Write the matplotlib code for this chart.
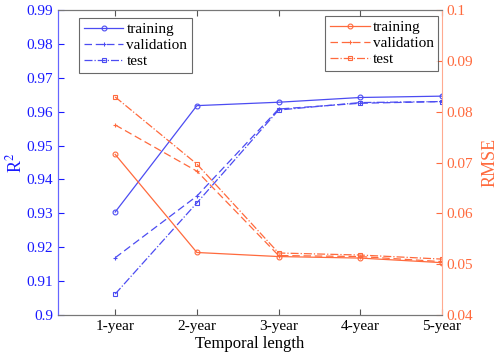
import numpy as np
import matplotlib.pyplot as plt

plt.rcParams['font.family'] = ['Liberation Serif', 'DejaVu Serif']
plt.rcParams['mathtext.fontset'] = 'stix'

periods = ['1-year', '2-year', '3-year', '4-year', '5-year']
r2_train = [0.9304, 0.9618, 0.9628, 0.9642, 0.9646]
r2_val = [0.9169, 0.9351, 0.9608, 0.9625, 0.9630]
r2_test = [0.9062, 0.9331, 0.9605, 0.9627, 0.9630]
rmse_train = [0.0716, 0.0523, 0.0515, 0.0512, 0.0503]
rmse_val = [0.0774, 0.0683, 0.0517, 0.0515, 0.0505]
rmse_test = [0.0829, 0.0697, 0.0522, 0.0518, 0.0510]

blue = '#4c4cf2'
orange = '#ff6a3d'
x = np.arange(1, 6)

fig = plt.figure(figsize=(5, 3.6), dpi=100)
ax = fig.add_axes([0.116, 0.125, 0.768, 0.847])
ax2 = ax.twinx()

ax.plot(x, r2_train, '-o', color=blue, lw=0.9, ms=3.5, mfc='none', mew=0.8, label='training')
ax.plot(x, r2_val, '--+', color=blue, lw=0.9, ms=3.5, mew=0.8, label='validation', dashes=(6, 3))
ax.plot(x, r2_test, '-.s', color=blue, lw=0.9, ms=3, mfc='none', mew=0.8, label='test')

ax2.plot(x, rmse_train, '-o', color=orange, lw=0.9, ms=3.5, mfc='none', mew=0.8, label='training')
ax2.plot(x, rmse_val, '--+', color=orange, lw=0.9, ms=3.5, mew=0.8, label='validation', dashes=(6, 3))
ax2.plot(x, rmse_test, '-.s', color=orange, lw=0.9, ms=3, mfc='none', mew=0.8, label='test')

ax.set_xlim(0.3, 5)
ax.set_xticks(x)
ax.set_xticklabels(periods, fontsize=11)
ax.set_ylim(0.9, 0.99)
ax.set_yticks(np.arange(0.9, 0.9901, 0.01))
ax.set_yticklabels(['0.9', '0.91', '0.92', '0.93', '0.94', '0.95', '0.96', '0.97', '0.98', '0.99'])
ax2.set_ylim(0.04, 0.1)
ax2.set_yticks(np.arange(0.04, 0.1001, 0.01))
ax2.set_yticklabels(['0.04', '0.05', '0.06', '0.07', '0.08', '0.09', '0.1'])

ax.set_xlabel('Temporal length', fontsize=12, labelpad=2)
ax.set_ylabel('R$^2$', fontsize=13, color='#1a1aff', labelpad=1)
ax2.set_ylabel('RMSE', fontsize=13, color=orange, labelpad=6)

ax.tick_params(axis='y', colors='#1a1aff', direction='in', labelsize=11, length=4)
ax.tick_params(axis='x', colors='#555555', labelcolor='black', direction='in', top=True, length=4)
ax2.tick_params(axis='y', colors=orange, direction='in', labelsize=11, length=4)

for sp in ['top', 'bottom']:
    ax.spines[sp].set_color('#777777')
    ax2.spines[sp].set_color('#777777')
ax.spines['left'].set_color('#6666ff')
ax2.spines['left'].set_color('#6666ff')
ax2.spines['right'].set_color('#ffaa90')
ax.spines['right'].set_visible(False)

leg1 = ax.legend(loc='upper left', bbox_to_anchor=(0.055, 0.975), fontsize=11, frameon=True,
                 fancybox=False, edgecolor='#444444', handlelength=2.6, borderpad=0.3,
                 labelspacing=0.15, handletextpad=0.2, borderaxespad=0, numpoints=1)
leg1.get_frame().set_linewidth(0.8)
leg2 = ax2.legend(loc='upper right', bbox_to_anchor=(0.99, 0.98), fontsize=11, frameon=True,
                  fancybox=False, edgecolor='#444444', handlelength=2.6, borderpad=0.3,
                  labelspacing=0.15, handletextpad=0.2, borderaxespad=0, numpoints=1)
leg2.get_frame().set_linewidth(0.8)

fig.savefig('out.png', dpi=100)
